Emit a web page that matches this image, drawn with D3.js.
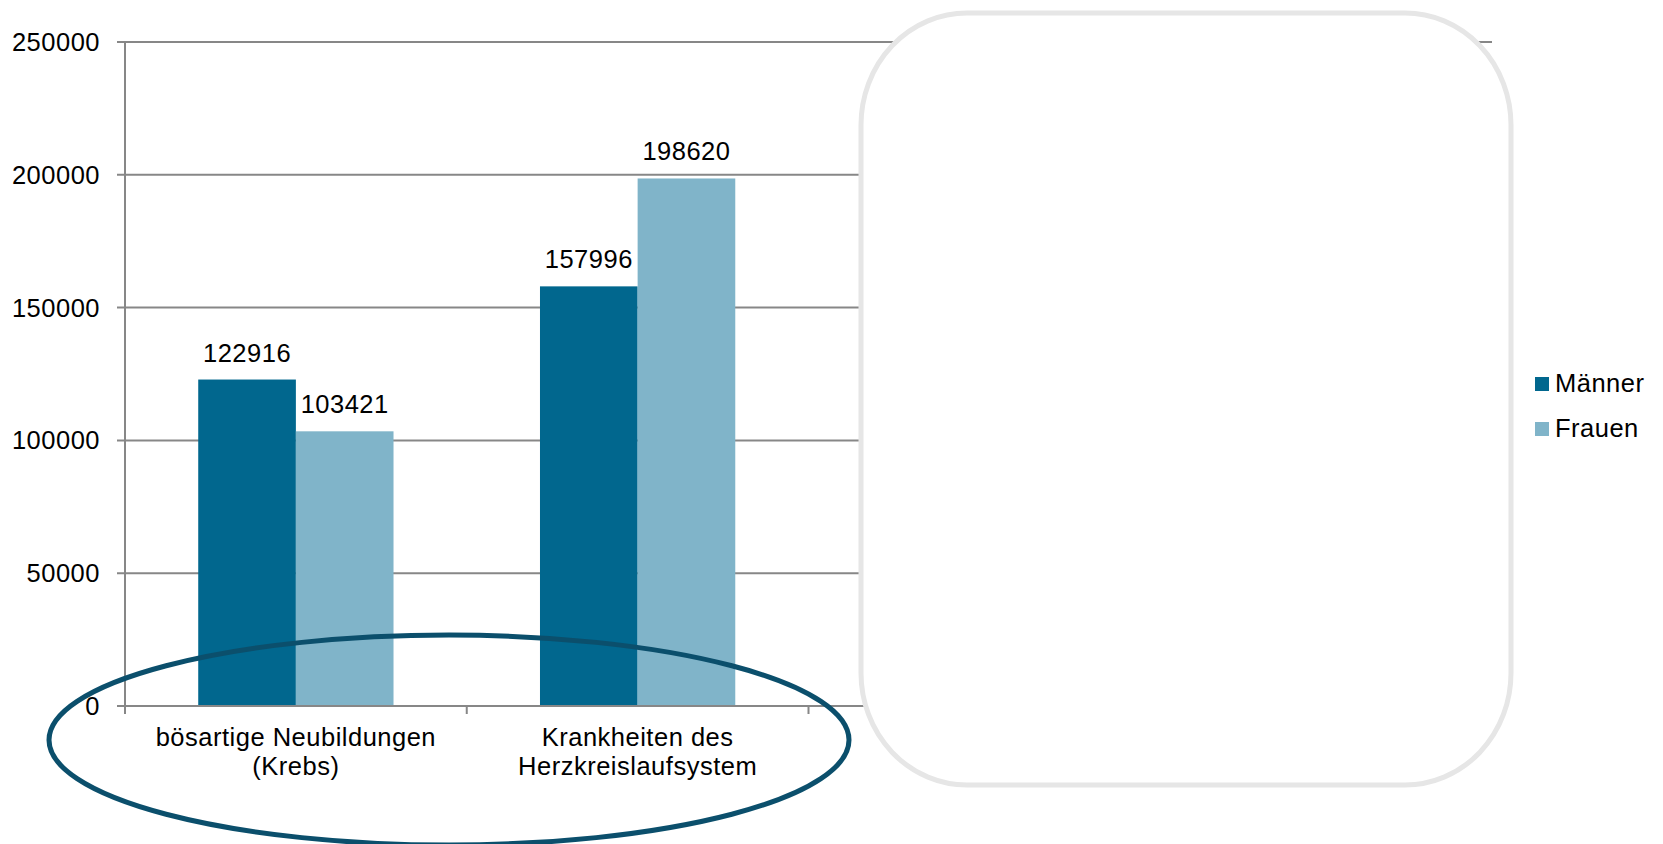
<!DOCTYPE html>
<html lang="de">
<head>
    <meta charset="UTF-8">
    <title>Todesursachen Männer / Frauen</title>
    <script src="https://d3js.org/d3.v7.min.js"></script>
    <style>
        body { margin: 0; background: #fff; }
        svg text { font-family: "Liberation Sans", Arial, sans-serif; font-size: 25.5px; letter-spacing: 0.5px; fill: #000; }
    </style>
</head>
<body>
    <div id="chart"></div>

    <script>
        // data
        const categories = [
            ["bösartige Neubildungen", "(Krebs)"],
            ["Krankheiten des", "Herzkreislaufsystem"]
        ];
        const series = ["Männer", "Frauen"];
        const maenner = [122916, 157996];
        const frauen = [103421, 198620];
        const yTicks = [0, 50000, 100000, 150000, 200000, 250000];

        const colors = { "Männer": "#01678e", "Frauen": "#80b4c9" };

        const width = 1663, height = 844;
        const plot = { left: 125, right: 1492, top: 42, bottom: 706 };
        // the original plot had 4 category slots, the last two are hidden under the panel
        const slots = 4;
        const step = (plot.right - plot.left) / slots;

        const svg = d3.select("#chart")
            .append("svg")
            .attr("width", width)
            .attr("height", height);

        const y = d3.scaleLinear()
            .domain([0, 250000])
            .range([plot.bottom, plot.top]);

        const catKeys = categories.map(c => c.join(" "));
        const x = d3.scaleBand()
            .domain(catKeys)
            .range([plot.left, plot.left + step * categories.length])
            .paddingInner(1.5 / 3.5)
            .paddingOuter(0.75 / 3.5);

        const xs = d3.scaleBand()
            .domain(series)
            .range([0, x.bandwidth()]);

        const gridColor = "#878787";

        // gridlines + y ticks
        svg.append("g")
            .selectAll("line")
            .data(yTicks.filter(d => d > 0))
            .join("line")
            .attr("x1", plot.left - 8)
            .attr("x2", plot.right)
            .attr("y1", d => y(d))
            .attr("y2", d => y(d))
            .attr("stroke", gridColor)
            .attr("stroke-width", 2);

        svg.append("g")
            .selectAll("text")
            .data(yTicks)
            .join("text")
            .attr("x", plot.left - 25)
            .attr("y", d => y(d))
            .attr("dy", "0.35em")
            .attr("text-anchor", "end")
            .text(d => d);

        // bars
        const rows = [];
        categories.forEach((c, i) => {
            rows.push({ cat: catKeys[i], key: "Männer", value: maenner[i] });
            rows.push({ cat: catKeys[i], key: "Frauen", value: frauen[i] });
        });

        svg.append("g")
            .selectAll("rect")
            .data(rows)
            .join("rect")
            .attr("x", d => x(d.cat) + xs(d.key))
            .attr("y", d => y(d.value))
            .attr("width", xs.bandwidth())
            .attr("height", d => y(0) - y(d.value))
            .attr("fill", d => colors[d.key]);

        svg.append("g")
            .selectAll("text")
            .data(rows)
            .join("text")
            .attr("x", d => x(d.cat) + xs(d.key) + xs.bandwidth() / 2)
            .attr("y", d => y(d.value) - 18)
            .attr("text-anchor", "middle")
            .text(d => d.value);

        // axes lines
        svg.append("line")
            .attr("x1", plot.left).attr("x2", plot.left)
            .attr("y1", plot.top).attr("y2", plot.bottom + 8)
            .attr("stroke", gridColor).attr("stroke-width", 2);
        svg.append("line")
            .attr("x1", plot.left - 8).attr("x2", plot.right)
            .attr("y1", plot.bottom).attr("y2", plot.bottom)
            .attr("stroke", gridColor).attr("stroke-width", 2);
        svg.append("g")
            .selectAll("line")
            .data(d3.range(1, slots + 1))
            .join("line")
            .attr("x1", i => plot.left + i * step)
            .attr("x2", i => plot.left + i * step)
            .attr("y1", plot.bottom)
            .attr("y2", plot.bottom + 8)
            .attr("stroke", gridColor).attr("stroke-width", 2);

        // category labels
        const catLabels = svg.append("g")
            .selectAll("text")
            .data(categories)
            .join("text")
            .attr("text-anchor", "middle")
            .attr("x", (d, i) => x(catKeys[i]) + x.bandwidth() / 2)
            .attr("y", plot.bottom + 40);
        catLabels.selectAll("tspan")
            .data(d => d)
            .join("tspan")
            .attr("x", function () { return this.parentNode.getAttribute("x"); })
            .attr("dy", (d, i) => i === 0 ? 0 : 29)
            .text(d => d);

        // rounded panel covering the right part
        svg.append("rect")
            .attr("x", 861).attr("y", 13)
            .attr("width", 650).attr("height", 772)
            .attr("rx", 106).attr("ry", 112)
            .attr("fill", "#fff")
            .attr("stroke", "#e6e6e6")
            .attr("stroke-width", 5);

        // highlight ellipse around the category labels
        svg.append("ellipse")
            .attr("cx", 449).attr("cy", 740)
            .attr("rx", 400).attr("ry", 105)
            .attr("fill", "none")
            .attr("stroke", "#0b4f6c")
            .attr("stroke-width", 5);

        // legend
        const legend = svg.append("g")
            .selectAll("g")
            .data(series)
            .join("g")
            .attr("transform", (d, i) => `translate(1535, ${377 + i * 45})`);
        legend.append("rect")
            .attr("width", 14).attr("height", 14)
            .attr("fill", d => colors[d]);
        legend.append("text")
            .attr("x", 20).attr("y", 15)
            .text(d => d);
    </script>
</body>
</html>
